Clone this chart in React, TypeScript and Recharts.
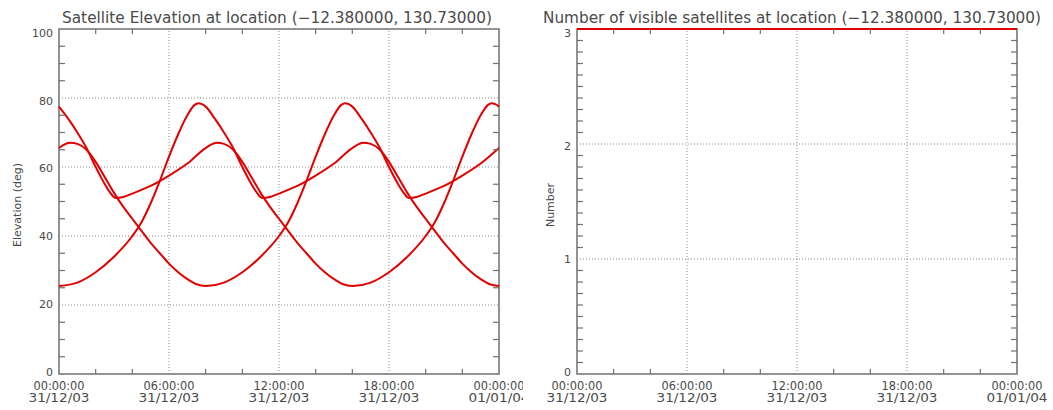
import React from 'react';
import { LineChart, Line, XAxis, YAxis, ReferenceLine, ReferenceArea } from 'recharts';

// ---------- data ----------
const TIME_LABELS = ['00:00:00', '06:00:00', '12:00:00', '18:00:00', '00:00:00'];
const DATE_LABELS = ['31/12/03', '31/12/03', '31/12/03', '31/12/03', '01/01/04'];
const X_TICKS = [0, 2, 4, 6, 8, 10, 12, 14, 16, 18, 20, 22, 24];
const X_GRID = [6, 12, 18];
const ELEV_TICKS = [0, 5, 10, 15, 20, 25, 30, 35, 40, 45, 50, 55, 60, 65, 70, 75, 80, 85, 90, 95, 100];
const ELEV_GRID = [20, 40, 60, 80];
const COUNT_TICKS = [0, 0.1, 0.2, 0.3, 0.4, 0.5, 0.6, 0.7, 0.8, 0.9, 1, 1.1, 1.2, 1.3, 1.4, 1.5, 1.6, 1.7, 1.8, 1.9, 2, 2.1, 2.2, 2.3, 2.4, 2.5, 2.6, 2.7, 2.8, 2.9, 3];
const COUNT_GRID = [1, 2];

const SAT1 = [
  { t: 0, e: 25.5 }, { t: 1, e: 26.5 }, { t: 2, e: 29.5 }, { t: 3, e: 34 }, { t: 4, e: 40 },
  { t: 4.5, e: 44 }, { t: 5, e: 49.5 }, { t: 5.5, e: 56 }, { t: 6, e: 63 }, { t: 6.5, e: 69.5 },
  { t: 7, e: 75 }, { t: 7.4, e: 78 }, { t: 7.6, e: 78.5 }, { t: 7.8, e: 78.2 }, { t: 8, e: 77.5 },
  { t: 8.5, e: 74 }, { t: 9, e: 70 }, { t: 9.5, e: 65.5 }, { t: 10, e: 60 }, { t: 10.5, e: 55 },
  { t: 10.8, e: 52.5 }, { t: 11.1, e: 51 }, { t: 11.5, e: 51.3 }, { t: 12, e: 52.3 }, { t: 13, e: 54.5 },
  { t: 14, e: 57.5 }, { t: 15, e: 61 }, { t: 16, e: 65.5 }, { t: 16.6, e: 67 }, { t: 17, e: 66.7 },
  { t: 17.5, e: 65 }, { t: 18, e: 61.5 }, { t: 18.5, e: 57 }, { t: 19, e: 52.5 }, { t: 19.5, e: 48.5 },
  { t: 20, e: 45 }, { t: 20.5, e: 41.5 }, { t: 21, e: 38 }, { t: 21.5, e: 35 }, { t: 22, e: 32 },
  { t: 22.5, e: 29.5 }, { t: 23, e: 27.5 }, { t: 23.5, e: 26 }, { t: 24, e: 25.5 },
];

const SAT2 = [
  { t: 0, e: 77.5 }, { t: 0.5, e: 74 }, { t: 1, e: 70 }, { t: 1.5, e: 65.5 }, { t: 2, e: 60 },
  { t: 2.5, e: 55 }, { t: 2.8, e: 52.5 }, { t: 3.1, e: 51 }, { t: 3.5, e: 51.3 }, { t: 4, e: 52.3 },
  { t: 5, e: 54.5 }, { t: 6, e: 57.5 }, { t: 7, e: 61 }, { t: 8, e: 65.5 }, { t: 8.6, e: 67 },
  { t: 9, e: 66.7 }, { t: 9.5, e: 65 }, { t: 10, e: 61.5 }, { t: 10.5, e: 57 }, { t: 11, e: 52.5 },
  { t: 11.5, e: 48.5 }, { t: 12, e: 45 }, { t: 12.5, e: 41.5 }, { t: 13, e: 38 }, { t: 13.5, e: 35 },
  { t: 14, e: 32 }, { t: 14.5, e: 29.5 }, { t: 15, e: 27.5 }, { t: 15.5, e: 26 }, { t: 16, e: 25.5 },
  { t: 17, e: 26.5 }, { t: 18, e: 29.5 }, { t: 19, e: 34 }, { t: 20, e: 40 }, { t: 20.5, e: 44 },
  { t: 21, e: 49.5 }, { t: 21.5, e: 56 }, { t: 22, e: 63 }, { t: 22.5, e: 69.5 }, { t: 23, e: 75 },
  { t: 23.4, e: 78 }, { t: 23.6, e: 78.5 }, { t: 23.8, e: 78.2 }, { t: 24, e: 77.5 },
];

const SAT3 = [
  { t: 0, e: 65.5 }, { t: 0.6, e: 67 }, { t: 1, e: 66.7 }, { t: 1.5, e: 65 }, { t: 2, e: 61.5 },
  { t: 2.5, e: 57 }, { t: 3, e: 52.5 }, { t: 3.5, e: 48.5 }, { t: 4, e: 45 }, { t: 4.5, e: 41.5 },
  { t: 5, e: 38 }, { t: 5.5, e: 35 }, { t: 6, e: 32 }, { t: 6.5, e: 29.5 }, { t: 7, e: 27.5 },
  { t: 7.5, e: 26 }, { t: 8, e: 25.5 }, { t: 9, e: 26.5 }, { t: 10, e: 29.5 }, { t: 11, e: 34 },
  { t: 12, e: 40 }, { t: 12.5, e: 44 }, { t: 13, e: 49.5 }, { t: 13.5, e: 56 }, { t: 14, e: 63 },
  { t: 14.5, e: 69.5 }, { t: 15, e: 75 }, { t: 15.4, e: 78 }, { t: 15.6, e: 78.5 }, { t: 15.8, e: 78.2 },
  { t: 16, e: 77.5 }, { t: 16.5, e: 74 }, { t: 17, e: 70 }, { t: 17.5, e: 65.5 }, { t: 18, e: 60 },
  { t: 18.5, e: 55 }, { t: 18.8, e: 52.5 }, { t: 19.1, e: 51 }, { t: 19.5, e: 51.3 }, { t: 20, e: 52.3 },
  { t: 21, e: 54.5 }, { t: 22, e: 57.5 }, { t: 23, e: 61 }, { t: 24, e: 65.5 },
];

const VISIBLE = [{ t: 0, n: 3 }, { t: 6, n: 3 }, { t: 12, n: 3 }, { t: 18, n: 3 }, { t: 24, n: 3 }];

const TITLE_LEFT = 'Satellite Elevation at location (\u221212.380000, 130.73000)';
const TITLE_RIGHT = 'Number of visible satellites at location (\u221212.380000, 130.73000)';
const YLABEL_LEFT = 'Elevation (deg)';
const YLABEL_RIGHT = 'Number';

// ---------- style ----------
const AX = '#707070';
const GRID = '#8a8a8a';
const TXT = '#4a4a4a';
const RED = '#e00000';
const FONT = '"DejaVu Sans", sans-serif';
const PLOT_W = 440;
const PLOT_H = 345;
const PLOT_TOP = 29;
const CHART_H = 410;

function XTick(props: any) {
  const { x, y, payload, plotH } = props;
  const v = payload.value;
  const k = v / 6;
  const major = Math.abs(k - Math.round(k)) < 1e-6;
  if (!major) {
    return (
      <g>
        <line x1={x} x2={x} y1={y} y2={y - 5} stroke={AX} strokeWidth={1.2} />
        <line x1={x} x2={x} y1={y - plotH} y2={y - plotH + 5} stroke={AX} strokeWidth={1.2} />
      </g>
    );
  }
  const i = Math.round(k);
  return (
    <g>
      <text x={x} y={y + 16} textAnchor="middle" fontSize={12} fill={TXT} fontFamily={FONT}
        textLength={51} lengthAdjust="spacingAndGlyphs">{TIME_LABELS[i]}</text>
      <text x={x} y={y + 28} textAnchor="middle" fontSize={12} fill={TXT} fontFamily={FONT}
        textLength={61} lengthAdjust="spacingAndGlyphs">{DATE_LABELS[i]}</text>
    </g>
  );
}

function YTick(props: any) {
  const { x, y, payload, plotW, step, max } = props;
  const v = payload.value;
  const r = v / step;
  const major = Math.abs(r - Math.round(r)) < 1e-6;
  if (!major) {
    return (
      <g>
        <line x1={x} x2={x + 6} y1={y} y2={y} stroke={AX} strokeWidth={1.2} />
        <line x1={x + plotW - 6} x2={x + plotW} y1={y} y2={y} stroke={AX} strokeWidth={1.2} />
      </g>
    );
  }
  const frac = v / max;
  return (
    <text x={x - 6} y={y + 1.5 + 6.5 * frac} textAnchor="end" fontSize={11} fill={TXT} fontFamily={FONT}>
      {String(Math.round(v))}
    </text>
  );
}

function ElevationChart() {
  const width = 530;
  return (
    <LineChart width={width} height={CHART_H}
      margin={{ top: PLOT_TOP, right: width - 59 - PLOT_W, bottom: 0, left: 0 }}>
      <XAxis dataKey="t" type="number" domain={[0, 24]} ticks={X_TICKS} interval={0}
        height={CHART_H - PLOT_TOP - PLOT_H} axisLine={false} tickLine={false} tickSize={0} tickMargin={0}
        tick={<XTick plotH={PLOT_H} />} />
      <YAxis type="number" domain={[0, 100]} ticks={ELEV_TICKS} interval={0} width={59}
        axisLine={false} tickLine={false} tickSize={0} tickMargin={0}
        tick={<YTick plotW={PLOT_W} step={20} max={100} />} />
      {X_GRID.map((g) => (
        <ReferenceLine key={'x' + g} x={g} stroke={GRID} strokeDasharray="1 2" />
      ))}
      {ELEV_GRID.map((g) => (
        <ReferenceLine key={'y' + g} y={g} stroke={GRID} strokeDasharray="1 2" />
      ))}
      <ReferenceArea x1={0} x2={24} y1={0} y2={100} fill="none" fillOpacity={0} stroke={AX} strokeWidth={1.5} />
      <Line data={SAT1} dataKey="e" type="monotone" stroke={RED} strokeWidth={2} dot={false} isAnimationActive={false} />
      <Line data={SAT2} dataKey="e" type="monotone" stroke={RED} strokeWidth={2} dot={false} isAnimationActive={false} />
      <Line data={SAT3} dataKey="e" type="monotone" stroke={RED} strokeWidth={2} dot={false} isAnimationActive={false} />
    </LineChart>
  );
}

function CountChart() {
  const width = 523;
  return (
    <LineChart width={width} height={CHART_H}
      margin={{ top: PLOT_TOP, right: width - 47 - PLOT_W, bottom: 0, left: 0 }}>
      <XAxis dataKey="t" type="number" domain={[0, 24]} ticks={X_TICKS} interval={0}
        height={CHART_H - PLOT_TOP - PLOT_H} axisLine={false} tickLine={false} tickSize={0} tickMargin={0}
        tick={<XTick plotH={PLOT_H} />} />
      <YAxis type="number" domain={[0, 3]} ticks={COUNT_TICKS} interval={0} width={47}
        axisLine={false} tickLine={false} tickSize={0} tickMargin={0}
        tick={<YTick plotW={PLOT_W} step={1} max={3} />} />
      {X_GRID.map((g) => (
        <ReferenceLine key={'x' + g} x={g} stroke={GRID} strokeDasharray="1 2" />
      ))}
      {COUNT_GRID.map((g) => (
        <ReferenceLine key={'y' + g} y={g} stroke={GRID} strokeDasharray="1 2" />
      ))}
      <ReferenceArea x1={0} x2={24} y1={0} y2={3} fill="none" fillOpacity={0} stroke={AX} strokeWidth={1.5} />
      <Line data={VISIBLE} dataKey="n" type="linear" stroke={RED} strokeWidth={2} dot={false} isAnimationActive={false} />
    </LineChart>
  );
}

export default function App() {
  return (
    <div style={{ position: 'absolute', left: 0, top: 0, width: 1053, height: 410, background: '#fff', overflow: 'hidden' }}>
      <div style={{ position: 'absolute', left: 0, top: 0, width: 523, height: 410, overflow: 'hidden' }}>
        <ElevationChart />
      </div>
      <div style={{ position: 'absolute', left: 530, top: 0, width: 523, height: 410 }}>
        <CountChart />
      </div>
      <svg width={1053} height={410} style={{ position: 'absolute', left: 0, top: 0, pointerEvents: 'none' }}>
        <text x={62} y={23} fontSize={15} fill={TXT} fontFamily={FONT} textLength={430} lengthAdjust="spacingAndGlyphs">{TITLE_LEFT}</text>
        <text x={543} y={23} fontSize={15} fill={TXT} fontFamily={FONT} textLength={498} lengthAdjust="spacingAndGlyphs">{TITLE_RIGHT}</text>
        <text x={0} y={0} transform="translate(21,205) rotate(-90)" textAnchor="middle" fontSize={11} fill={TXT} fontFamily={FONT}>{YLABEL_LEFT}</text>
        <text x={0} y={0} transform="translate(554,205) rotate(-90)" textAnchor="middle" fontSize={11} fill={TXT} fontFamily={FONT}>{YLABEL_RIGHT}</text>
      </svg>
    </div>
  );
}
